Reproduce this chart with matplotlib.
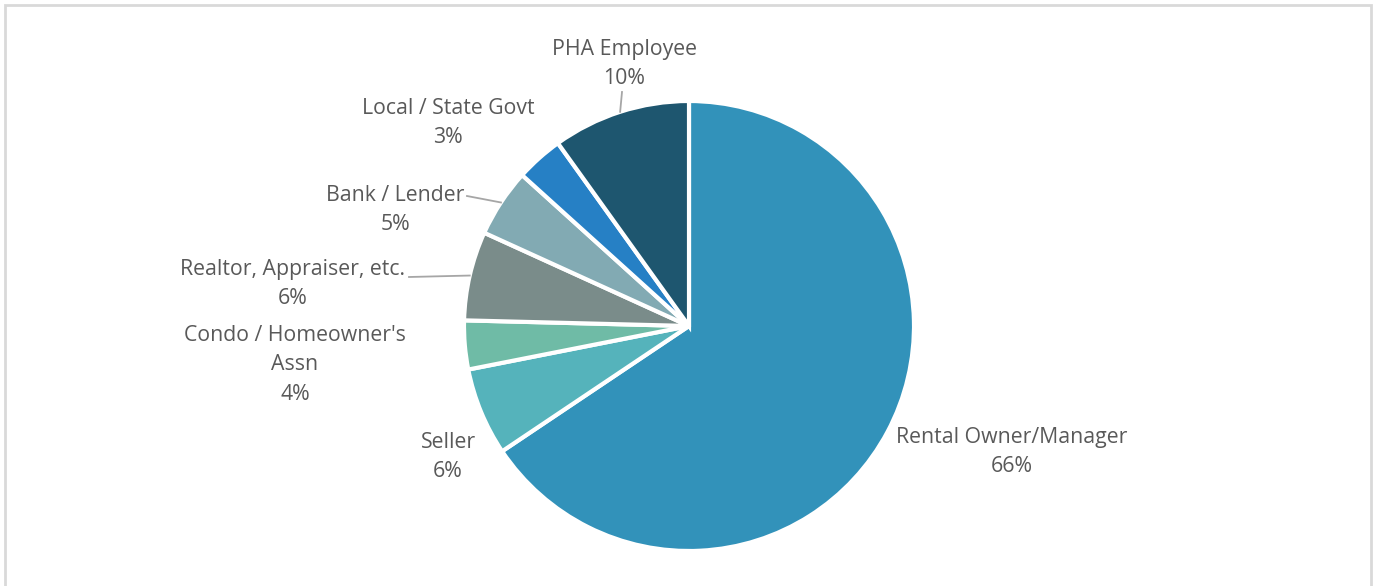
import numpy as np
import matplotlib.pyplot as plt
from matplotlib.patches import Rectangle

# slice data, clockwise from 12 o'clock
categories = ["Rental Owner/Manager", "Seller", "Condo / Homeowner's\nAssn",
              "Realtor, Appraiser, etc.", "Bank / Lender", "Local / State Govt",
              "PHA Employee"]
shares = [65.6, 6.3, 3.5, 6.4, 4.9, 3.4, 9.9]
colors = ["#3292BA", "#55B3BB", "#6FBBA6", "#7A8C8A", "#82AAB3", "#2680C5", "#1E566F"]

# label placement in pixel space (x, y from top), leader line start (or None)
label_pos = [(1012, 452), (448, 457), (295, 365), (293, 284), (395, 210), (448, 123), (624, 64)]
leader_start = [None, None, None, (409, 277), (467, 196), None, (622, 92)]

W, H = 1376, 586
cx, cy, R = 689, H - 326, 225

fig = plt.figure(figsize=(W / 100, H / 100), dpi=100)
ax = fig.add_axes([0, 0, 1, 1])

# chart border
ax.add_patch(Rectangle((5, -20), W - 10, H - 5 + 20, fill=False, edgecolor="#D9D9D9", linewidth=2))

wedges, _ = ax.pie(shares, colors=colors, startangle=90, counterclock=False,
                   center=(cx, cy), radius=R,
                   wedgeprops=dict(edgecolor="white", linewidth=3))
ax.set_xlim(0, W)
ax.set_ylim(0, H)
ax.set_aspect("equal")
ax.axis("off")

font = ["Open Sans", "DejaVu Sans"]
for i, (name, v) in enumerate(zip(categories, shares)):
    txt = f"{name}\n{int(v + 0.5)}%"
    x, y = label_pos[i]
    ax.text(x, H - y, txt, ha="center", va="center", fontsize=15.3, color="#595959",
            family=font, linespacing=1.55)
    if leader_start[i] is not None:
        w = wedges[i]
        mid = np.deg2rad((w.theta1 + w.theta2) / 2)
        ex = cx + R * np.cos(mid)
        ey = cy + R * np.sin(mid)
        sx, sy = leader_start[i]
        ax.plot([sx, ex], [H - sy, ey], color="#A6A6A6", linewidth=1.3)

fig.savefig("out.png", dpi=100)
